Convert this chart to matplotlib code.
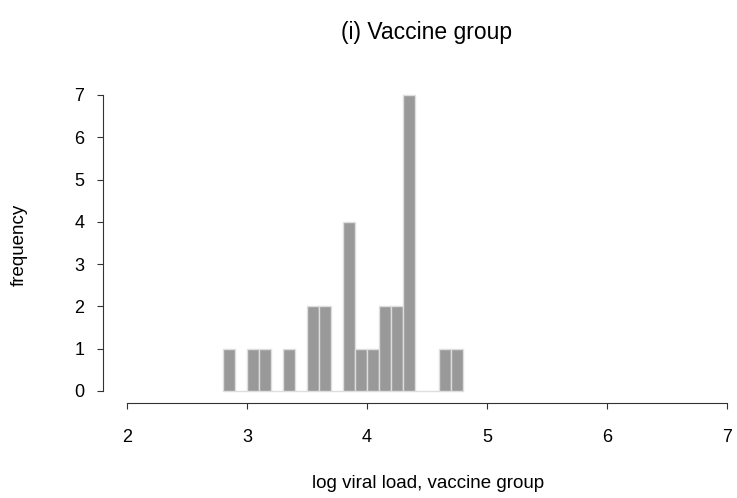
import matplotlib
matplotlib.use("Agg")
import matplotlib.pyplot as plt
import numpy as np

plt.rcParams['font.family'] = ['Liberation Sans', 'DejaVu Sans']

bin_left = [2.8, 2.9, 3.0, 3.1, 3.2, 3.3, 3.4, 3.5, 3.6, 3.7,
            3.8, 3.9, 4.0, 4.1, 4.2, 4.3, 4.4, 4.5, 4.6, 4.7]
counts = [1, 0, 1, 1, 0, 1, 0, 2, 2, 0,
          4, 1, 1, 2, 2, 7, 0, 0, 1, 1]
bin_width = 0.1
x_ticks = [2, 3, 4, 5, 6, 7]
y_ticks = [0, 1, 2, 3, 4, 5, 6, 7]
title = "(i) Vaccine group"
xlabel = "log viral load, vaccine group"
ylabel = "frequency"

W, H = 737, 498
bot_px, top_px = 402.8, 83.1
fig = plt.figure(figsize=(W / 100, H / 100), dpi=100)
ax = fig.add_axes([103 / W, (H - bot_px) / H, 633 / W, (bot_px - top_px) / H])

ax.bar(bin_left, counts, width=bin_width, align='edge',
       color='#999999', edgecolor='#dedede', linewidth=1.0)

ax.set_xlim(1.8, 7.075)
ax.set_ylim(-0.28, 7.28)

for s in ['top', 'right']:
    ax.spines[s].set_visible(False)
ax.spines['bottom'].set_bounds(2, 7)
ax.spines['left'].set_bounds(0, 7)
for s in ['bottom', 'left']:
    ax.spines[s].set_color('#333333')
    ax.spines[s].set_linewidth(0.8)

ax.set_xticks(x_ticks)
ax.set_yticks(y_ticks)
ax.tick_params(axis='both', direction='out', length=4.5, width=0.8,
               color='#333333', labelsize=13, labelcolor='black')
ax.tick_params(axis='x', pad=14.5)
ax.tick_params(axis='y', pad=9)

fig.text(427 / W, 1 - 33 / H, title, ha='center', va='center', fontsize=16.5)
fig.text(428 / W, 1 - 483 / H, xlabel, ha='center', va='center', fontsize=13.5)
fig.text(19 / W, 1 - 245 / H, ylabel, ha='center', va='center', rotation=90, fontsize=13.5)

fig.savefig("out.png", dpi=100)
